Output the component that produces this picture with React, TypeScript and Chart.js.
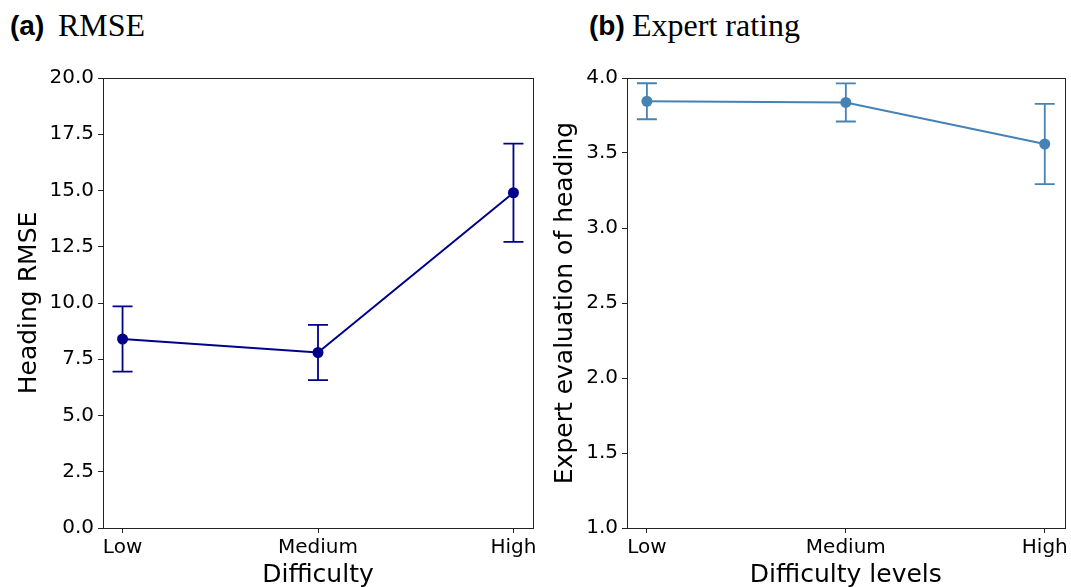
import React, { useEffect, useRef } from "react";
import { Chart, registerables } from "chart.js";

Chart.register(...registerables);

const difficultyLabels = ["Low", "Medium", "High"];
const rmseMeans = [8.4, 7.8, 14.9];
const rmseErrors = [1.45, 1.23, 2.18];
const expertMeans = [3.845, 3.837, 3.56];
const expertErrors = [0.12, 0.127, 0.267];
const rmseTicks = [0, 2.5, 5, 7.5, 10, 12.5, 15, 17.5, 20];
const expertTicks = [1, 1.5, 2, 2.5, 3, 3.5, 4];

type PanelProps = {
  left: number;
  top: number;
  width: number;
  height: number;
  yAxisWidth: number;
  xAxisHeight: number;
  padTop: number;
  padRight: number;
  yTitle: string;
  yTitlePad: number;
  xTitle: string;
  xTitlePad: number;
  means: number[];
  errors: number[];
  yTicks: number[];
  color: string;
};

const FONT = "'DejaVu Sans', sans-serif";
const AXIS_COLOR = "#222";

function Panel(p: PanelProps) {
  const ref = useRef<HTMLCanvasElement | null>(null);
  useEffect(() => {
    if (!ref.current) return;
    const errorBars = {
      id: "errorBars",
      afterDatasetsDraw(chart: any) {
        const { ctx } = chart;
        const xs = chart.scales.x;
        const ys = chart.scales.y;
        ctx.save();
        ctx.strokeStyle = p.color;
        ctx.lineWidth = 1.8;
        p.means.forEach((m, i) => {
          const x = xs.getPixelForValue(i);
          const y1 = ys.getPixelForValue(m + p.errors[i]);
          const y2 = ys.getPixelForValue(m - p.errors[i]);
          ctx.beginPath();
          ctx.moveTo(x, y1);
          ctx.lineTo(x, y2);
          ctx.moveTo(x - 10, y1);
          ctx.lineTo(x + 10, y1);
          ctx.moveTo(x - 10, y2);
          ctx.lineTo(x + 10, y2);
          ctx.stroke();
        });
        ctx.restore();
      },
    };
    const frame = {
      id: "frame",
      afterDraw(chart: any) {
        const { ctx, chartArea } = chart;
        ctx.save();
        ctx.strokeStyle = AXIS_COLOR;
        ctx.lineWidth = 1;
        ctx.strokeRect(
          Math.round(chartArea.left) + 0.5,
          Math.round(chartArea.top) + 0.5,
          Math.round(chartArea.right - chartArea.left),
          Math.round(chartArea.bottom - chartArea.top)
        );
        ctx.restore();
      },
    };
    const chart = new Chart(ref.current, {
      type: "line",
      data: {
        datasets: [
          {
            data: p.means.map((m, i) => ({ x: i, y: m })),
            borderColor: p.color,
            backgroundColor: p.color,
            borderWidth: 2,
            pointRadius: 5.5,
            pointBorderWidth: 0,
            pointBackgroundColor: p.color,
            tension: 0,
          },
        ],
      },
      options: {
        animation: false,
        responsive: false,
        maintainAspectRatio: false,
        layout: { padding: { top: p.padTop, right: p.padRight, left: 0, bottom: 0 } },
        plugins: { legend: { display: false }, tooltip: { enabled: false } },
        scales: {
          x: {
            type: "linear",
            min: -0.1,
            max: 2.1,
            afterBuildTicks: (s: any) => {
              s.ticks = difficultyLabels.map((_, i) => ({ value: i }));
            },
            afterFit: (s: any) => {
              s.height = p.xAxisHeight;
            },
            grid: {
              drawOnChartArea: false,
              drawTicks: true,
              tickLength: 5,
              tickColor: AXIS_COLOR,
            },
            border: { display: true, color: AXIS_COLOR, width: 1 },
            ticks: {
              color: "#000",
              font: { family: FONT, size: 20 },
              padding: 3,
              maxRotation: 0,
              autoSkip: false,
              callback: (v: any) => difficultyLabels[Math.round(Number(v))] ?? "",
            },
            title: {
              display: true,
              text: p.xTitle,
              color: "#000",
              font: { family: FONT, size: 25, lineHeight: 1.2 },
              padding: { top: 0, bottom: p.xTitlePad },
            },
          },
          y: {
            type: "linear",
            min: p.yTicks[0],
            max: p.yTicks[p.yTicks.length - 1],
            afterBuildTicks: (s: any) => {
              s.ticks = p.yTicks.map((v) => ({ value: v }));
            },
            afterFit: (s: any) => {
              s.width = p.yAxisWidth;
            },
            grid: {
              drawOnChartArea: false,
              drawTicks: true,
              tickLength: 5,
              tickColor: AXIS_COLOR,
            },
            border: { display: true, color: AXIS_COLOR, width: 1 },
            ticks: {
              color: "#000",
              font: { family: FONT, size: 20 },
              padding: 4,
              autoSkip: false,
              callback: (v: any) => Number(v).toFixed(1),
            },
            title: {
              display: true,
              text: p.yTitle,
              color: "#000",
              font: { family: FONT, size: 25, lineHeight: 1.2 },
              padding: { top: p.yTitlePad, bottom: 0 },
            },
          },
        },
      },
      plugins: [errorBars, frame],
    } as any);
    return () => chart.destroy();
  }, []);
  return (
    <canvas
      ref={ref}
      width={p.width}
      height={p.height}
      style={{ position: "absolute", left: p.left, top: p.top, width: p.width, height: p.height }}
    />
  );
}

const boldLabel: React.CSSProperties = {
  position: "absolute",
  fontFamily: "'Liberation Sans', Arial, sans-serif",
  fontWeight: 700,
  fontSize: 28,
  lineHeight: "1",
  whiteSpace: "nowrap",
  color: "#000",
};
const serifLabel: React.CSSProperties = {
  position: "absolute",
  fontFamily: "'Liberation Serif', 'Times New Roman', serif",
  fontSize: 32,
  lineHeight: "1",
  whiteSpace: "nowrap",
  color: "#000",
};

export default function App() {
  return (
    <div
      style={{
        position: "fixed",
        left: 0,
        top: 0,
        width: 1071,
        height: 587,
        background: "#fff",
        overflow: "hidden",
      }}
    >
      <div style={{ ...boldLabel, left: 10, top: 12 }}>(a)</div>
      <div style={{ ...serifLabel, left: 58, top: 9 }}>RMSE</div>
      <div style={{ ...boldLabel, left: 589, top: 12 }}>(b)</div>
      <div style={{ ...serifLabel, left: 632, top: 9 }}>Expert rating</div>
      <Panel
        left={0}
        top={60}
        width={540}
        height={527}
        yAxisWidth={103}
        xAxisHeight={59}
        padTop={18}
        padRight={7}
        yTitle="Heading RMSE"
        yTitlePad={14.3}
        xTitle="Difficulty"
        xTitlePad={-3.6}
        means={rmseMeans}
        errors={rmseErrors}
        yTicks={rmseTicks}
        color="#00008B"
      />
      <Panel
        left={540}
        top={60}
        width={531}
        height={527}
        yAxisWidth={87}
        xAxisHeight={59}
        padTop={18}
        padRight={2}
        yTitle="Expert evaluation of heading"
        yTitlePad={10.6}
        xTitle="Difficulty levels"
        xTitlePad={-3.6}
        means={expertMeans}
        errors={expertErrors}
        yTicks={expertTicks}
        color="#4682B4"
      />
    </div>
  );
}
